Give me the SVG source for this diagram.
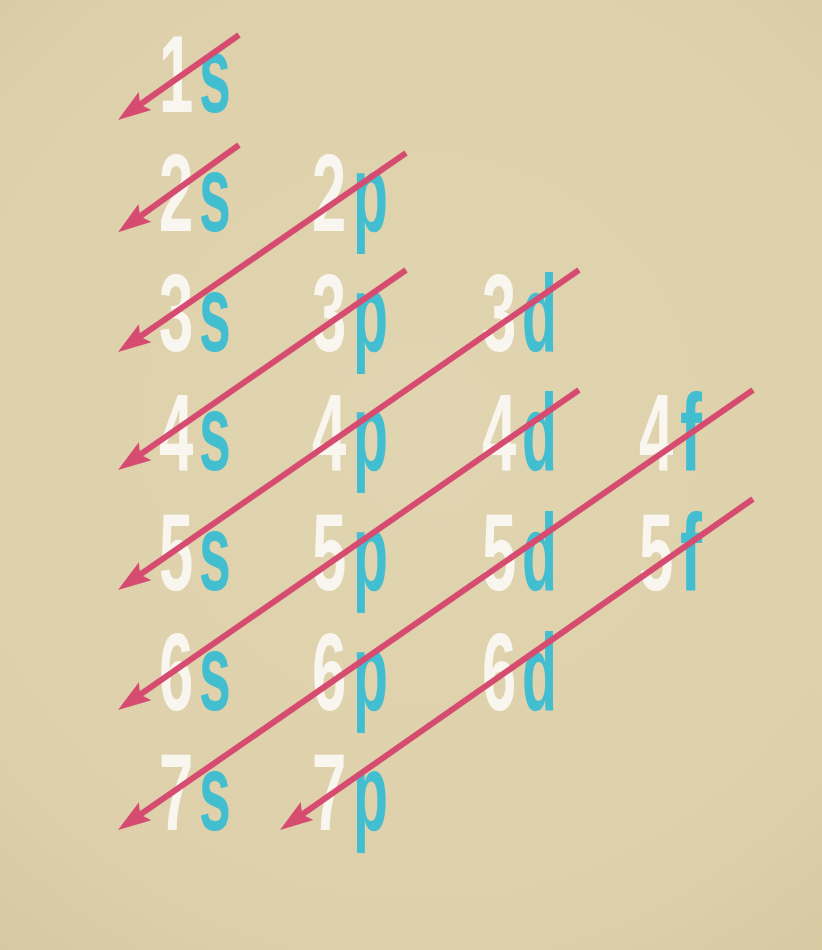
<svg xmlns="http://www.w3.org/2000/svg" width="822" height="950" viewBox="0 0 822 950">
<defs>
<radialGradient id="bg" cx="420" cy="430" r="680" gradientUnits="userSpaceOnUse">
<stop offset="0" stop-color="#e1d5b1"/>
<stop offset="0.75" stop-color="#ddd0aa"/>
<stop offset="1" stop-color="#d6c8a1"/>
</radialGradient>
<marker id="ah" markerUnits="userSpaceOnUse" viewBox="-34 -13 36 26" refX="-10" refY="0" markerWidth="36" markerHeight="26" orient="auto">
<path d="M0,0 L-33,-11 L-27,0 L-33,11 Z" fill="#d64c70"/>
</marker>
</defs>
<style>
.n{font-family:"Liberation Sans",Arial,sans-serif;font-weight:bold;font-size:110px;fill:#f8f6ef}
.l{font-family:"Liberation Sans",Arial,sans-serif;font-weight:bold;font-size:110px;fill:#42bed0}
.a{stroke:#d64c70;stroke-width:6;fill:none;marker-end:url(#ah)}
</style>
<rect width="822" height="950" fill="url(#bg)"/>
<g id="n1s"><text class="n" transform="translate(159,112) scale(0.56,1)">1</text><text class="l" transform="translate(199,112) scale(0.52,1)">s</text></g>
<g id="n2s"><text class="n" transform="translate(159,231) scale(0.56,1)">2</text><text class="l" transform="translate(199,231) scale(0.52,1)">s</text></g>
<g id="n2p"><text class="n" transform="translate(312,231) scale(0.56,1)">2</text><text class="l" transform="translate(353,231) scale(0.52,1)">p</text></g>
<g id="n3s"><text class="n" transform="translate(159,351) scale(0.56,1)">3</text><text class="l" transform="translate(199,351) scale(0.52,1)">s</text></g>
<g id="n3p"><text class="n" transform="translate(312,351) scale(0.56,1)">3</text><text class="l" transform="translate(353,351) scale(0.52,1)">p</text></g>
<g id="n3d"><text class="n" transform="translate(482,351) scale(0.56,1)">3</text><text class="l" transform="translate(522,351) scale(0.52,1)">d</text></g>
<g id="n4s"><text class="n" transform="translate(159,470) scale(0.56,1)">4</text><text class="l" transform="translate(199,470) scale(0.52,1)">s</text></g>
<g id="n4p"><text class="n" transform="translate(312,470) scale(0.56,1)">4</text><text class="l" transform="translate(353,470) scale(0.52,1)">p</text></g>
<g id="n4d"><text class="n" transform="translate(482,470) scale(0.56,1)">4</text><text class="l" transform="translate(522,470) scale(0.52,1)">d</text></g>
<g id="n4f"><text class="n" transform="translate(639,470) scale(0.56,1)">4</text><text class="l" transform="translate(680,470) scale(0.6,1)">f</text></g>
<g id="n5s"><text class="n" transform="translate(159,590) scale(0.56,1)">5</text><text class="l" transform="translate(199,590) scale(0.52,1)">s</text></g>
<g id="n5p"><text class="n" transform="translate(312,590) scale(0.56,1)">5</text><text class="l" transform="translate(353,590) scale(0.52,1)">p</text></g>
<g id="n5d"><text class="n" transform="translate(482,590) scale(0.56,1)">5</text><text class="l" transform="translate(522,590) scale(0.52,1)">d</text></g>
<g id="n5f"><text class="n" transform="translate(639,590) scale(0.56,1)">5</text><text class="l" transform="translate(680,590) scale(0.6,1)">f</text></g>
<g id="n6s"><text class="n" transform="translate(159,710) scale(0.56,1)">6</text><text class="l" transform="translate(199,710) scale(0.52,1)">s</text></g>
<g id="n6p"><text class="n" transform="translate(312,710) scale(0.56,1)">6</text><text class="l" transform="translate(353,710) scale(0.52,1)">p</text></g>
<g id="n6d"><text class="n" transform="translate(482,710) scale(0.56,1)">6</text><text class="l" transform="translate(522,710) scale(0.52,1)">d</text></g>
<g id="n7s"><text class="n" transform="translate(159,830) scale(0.56,1)">7</text><text class="l" transform="translate(199,830) scale(0.52,1)">s</text></g>
<g id="n7p"><text class="n" transform="translate(312,830) scale(0.56,1)">7</text><text class="l" transform="translate(353,830) scale(0.52,1)">p</text></g>
<g id="connectors">
<line class="a" x1="239" y1="35" x2="126.2" y2="114.3"/>
<line class="a" x1="239" y1="145" x2="126.2" y2="226.3"/>
<line class="a" x1="406" y1="153" x2="126.2" y2="346.3"/>
<line class="a" x1="406" y1="270" x2="126.2" y2="464.3"/>
<line class="a" x1="579" y1="270" x2="126.2" y2="584.3"/>
<line class="a" x1="579" y1="390" x2="126.2" y2="704.3"/>
<line class="a" x1="753" y1="390" x2="126.2" y2="824.3"/>
<line class="a" x1="753" y1="499" x2="288.2" y2="824.3"/>
</g>
</svg>
